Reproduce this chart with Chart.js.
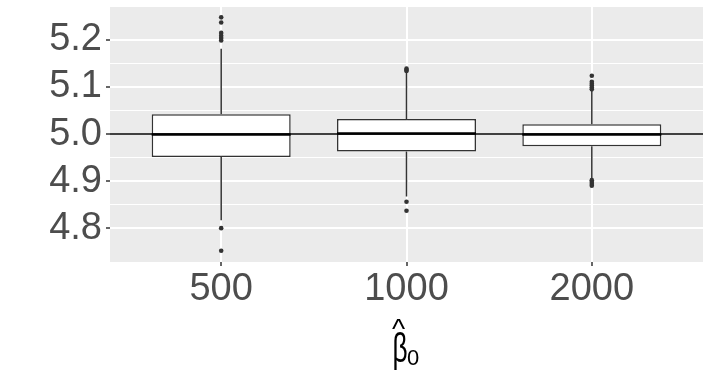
<!DOCTYPE html>
<html>
<head>
<meta charset="utf-8">
<script src="https://cdn.jsdelivr.net/npm/chart.js@4.4.1/dist/chart.umd.min.js"></script>
<style>
  html, body { margin: 0; padding: 0; background: #fff; }
  #wrap { width: 711px; height: 384px; }
</style>
</head>
<body>
<div id="wrap"><canvas id="grafico"></canvas></div>
<script>
// ======== DATA ===========
const categories = ['500', '1000', '2000'];
const q1 = [4.951, 4.963, 4.974];
const median = [4.999, 5.001, 4.999];
const q3 = [5.042, 5.032, 5.021];
const whiskerLow = [4.817, 4.867, 4.905];
const whiskerHigh = [5.181, 5.132, 5.092];
const outliers = [
  [5.248, 5.237, 5.215, 5.209, 5.204, 5.199, 4.800, 4.752],
  [5.139, 5.136, 5.134, 4.856, 4.837],
  [5.124, 5.111, 5.107, 5.103, 5.099, 5.095, 4.902, 4.898, 4.894, 4.890]
];
const trueValue = 5.0;
const yTicks = [4.8, 4.9, 5.0, 5.1, 5.2];

// ======== HELPERS ===========
const HALF = 0.375; // half box width, in category units
const isMajor = v => Math.abs(v * 10 - Math.round(v * 10)) < 1e-6;
const isHalf = v => Math.abs(v * 20 - Math.round(v * 20)) < 1e-6;

const boxData = categories.map((c, i) => ({ x: i + 1, y: [q1[i], q3[i]] }));

const medianPts = [];
const whiskerPts = [];
const outlierPts = [];
categories.forEach((c, i) => {
  const x = i + 1;
  medianPts.push({ x: x - HALF, y: median[i] }, { x: x + HALF, y: median[i] }, { x, y: null });
  whiskerPts.push({ x, y: q3[i] }, { x, y: whiskerHigh[i] }, { x, y: null });
  whiskerPts.push({ x, y: q1[i] }, { x, y: whiskerLow[i] }, { x, y: null });
  outliers[i].forEach(v => outlierPts.push({ x, y: v }));
});

// ======== PLUGINS ===========
const panelBg = {
  id: 'panelBg',
  beforeDraw(chart) {
    const { ctx, chartArea: a } = chart;
    ctx.save();
    ctx.fillStyle = '#EBEBEB';
    ctx.fillRect(a.left, a.top, a.right - a.left, a.bottom - a.top);
    ctx.restore();
  }
};

// x title: beta hat with subscript 0
const betaTitle = {
  id: 'betaTitle',
  afterDraw(chart) {
    const { ctx, chartArea: a } = chart;
    const cx = (a.left + a.right) / 2;
    const base = a.bottom + 100;
    ctx.save();
    ctx.fillStyle = '#000';
    ctx.textBaseline = 'alphabetic';
    ctx.textAlign = 'left';
    ctx.save();
    ctx.translate(cx - 14, base);
    ctx.scale(0.64, 1);
    ctx.font = '41px "Liberation Sans"';
    ctx.fillText('β', 0, 0);
    ctx.restore();
    ctx.textAlign = 'center';
    ctx.font = '28px "Liberation Sans"';
    ctx.fillText('^', cx - 8, base - 24);
    ctx.textAlign = 'left';
    ctx.font = '22px "Liberation Sans"';
    ctx.fillText('0', cx + 0.5, base + 3);
    ctx.restore();
  }
};

const noPad = s => { s.paddingTop = 0; s.paddingBottom = 0; s.paddingLeft = 0; s.paddingRight = 0; };

// ======== CHART ===========
new Chart(document.getElementById('grafico'), {
  type: 'bar',
  data: {
    datasets: [
      {
        type: 'line',
        data: outlierPts,
        showLine: false,
        pointRadius: 2.3,
        pointBackgroundColor: '#333333',
        pointBorderWidth: 0,
        order: 0
      },
      {
        type: 'line',
        data: [{ x: 0.4, y: trueValue }, { x: 3.6, y: trueValue }],
        borderColor: '#000',
        borderWidth: 1.5,
        pointRadius: 0,
        order: 1
      },
      {
        type: 'line',
        data: medianPts,
        borderColor: '#000',
        borderWidth: 2.5,
        pointRadius: 0,
        spanGaps: false,
        order: 2
      },
      {
        type: 'line',
        data: whiskerPts,
        borderColor: '#333333',
        borderWidth: 1.5,
        pointRadius: 0,
        spanGaps: false,
        order: 3
      },
      {
        type: 'bar',
        data: boxData,
        backgroundColor: '#ffffff',
        borderColor: '#333333',
        borderWidth: 1.5,
        borderSkipped: false,
        categoryPercentage: 0.75,
        barPercentage: 1,
        order: 4
      }
    ]
  },
  options: {
    responsive: true,
    maintainAspectRatio: false,
    animation: false,
    layout: { padding: { top: 7, right: 8, left: 0, bottom: 0 } },
    plugins: { legend: { display: false }, tooltip: { enabled: false } },
    scales: {
      x: {
        type: 'linear',
        offset: false,
        min: 0.4,
        max: 3.6,
        afterBuildTicks: s => { s.ticks = categories.map((c, i) => ({ value: i + 1 })); },
        afterFit: s => { s.height = 122; noPad(s); },
        ticks: {
          autoSkip: false,
          maxRotation: 0,
          padding: 1,
          color: '#4D4D4D',
          font: { family: 'Liberation Sans', size: 38 },
          callback: v => categories[Math.round(v) - 1]
        },
        grid: { offset: false, color: '#ffffff', lineWidth: 2, tickLength: 4, tickColor: '#333333', tickWidth: 1.5 },
        border: { display: false }
      },
      y: {
        min: 4.728,
        max: 5.27,
        afterBuildTicks: s => { s.ticks = s.ticks.filter(t => isHalf(t.value)); },
        afterFit: s => { s.width = 110; noPad(s); },
        ticks: {
          stepSize: 0.05,
          autoSkip: false,
          padding: 4,
          color: '#4D4D4D',
          font: { family: 'Liberation Sans', size: 38 },
          callback: v => (isMajor(v) && yTicks.some(t => Math.abs(t - v) < 1e-6)) ? v.toFixed(1) : ''
        },
        grid: {
          color: '#ffffff',
          lineWidth: c => isMajor(c.tick.value) ? 2 : 1,
          tickLength: 4,
          tickColor: c => isMajor(c.tick.value) ? '#333333' : 'rgba(0,0,0,0)',
          tickWidth: 1.5
        },
        border: { display: false }
      }
    }
  },
  plugins: [panelBg, betaTitle]
});
</script>
</body>
</html>
